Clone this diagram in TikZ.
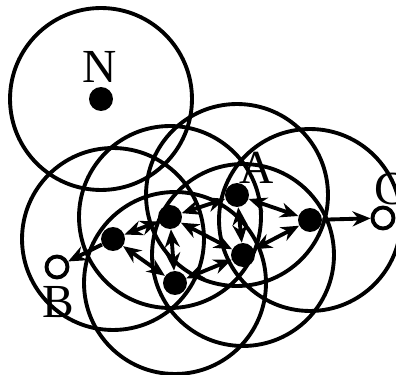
\documentclass[tikz,border=0pt]{standalone}
\usepackage{fontspec}
\setmainfont{Liberation Serif}
\usetikzlibrary{arrows.meta}

\begin{document}
\begin{tikzpicture}[
  x=0.02cm, y=-0.02cm,
  dot/.style={circle, fill=black, inner sep=0pt, minimum size=0.48cm},
  hole/.style={circle, draw=black, fill=white, line width=2.2pt,
               inner sep=0pt, minimum size=0.42cm},
  reach/.style={draw=black, line width=2.2pt},
  link/.style={-{Stealth[length=0.36cm, width=0.3cm]}, line width=2.2pt},
  duplex/.style={{Stealth[length=0.36cm, width=0.3cm]}-{Stealth[length=0.36cm, width=0.3cm]}, line width=2.2pt},
  tag/.style={inner sep=0pt, font=\fontsize{27}{27}\selectfont}
]
\useasboundingbox (0,0) rectangle (396,375);

% ==================== NODES ====================
\coordinate (pN) at (101,99);
\coordinate (pA) at (237,195);
\coordinate (p1) at (170,217);
\coordinate (p2) at (113,239);
\coordinate (p3) at (175,283);
\coordinate (p4) at (243,255);
\coordinate (p5) at (310,220);

% ==================== REACH ====================
\foreach \p in {pN,pA,p1,p2,p3,p4,p5}
  \draw[reach] (\p) circle[radius=1.82cm];

\node[dot] (N) at (pN) {};
\node[dot] (A) at (pA) {};
\node[dot] (s1) at (p1) {};
\node[dot] (s2) at (p2) {};
\node[dot] (s3) at (p3) {};
\node[dot] (s4) at (p4) {};
\node[dot] (s5) at (p5) {};
\node[hole] (B) at (57,267) {};
\node[hole] (C) at (383,218) {};

\node[tag] (Nlabel) at (100,67) {N};
\node[tag] (Alabel) at (257,168) {A};
\node[tag] (Blabel) at (58,302) {B};
\node[tag] (Clabel) at (390,189) {C};

% ==================== LINKS ====================
\draw[duplex] (s2) -- (s1);
\draw[duplex] (s2) -- (s3);
\draw[duplex] (s1) -- (s3);
\draw[duplex] (s1) -- (A);
\draw[duplex] (s1) -- (s4);
\draw[duplex] (A) -- (s4);
\draw[duplex] (A) -- (s5);
\draw[duplex] (s4) -- (s5);
\draw[duplex] (s3) -- (s4);
\draw[link] (s2) -- (B);
\draw[link] (s5) -- (C);

\end{tikzpicture}
\end{document}
